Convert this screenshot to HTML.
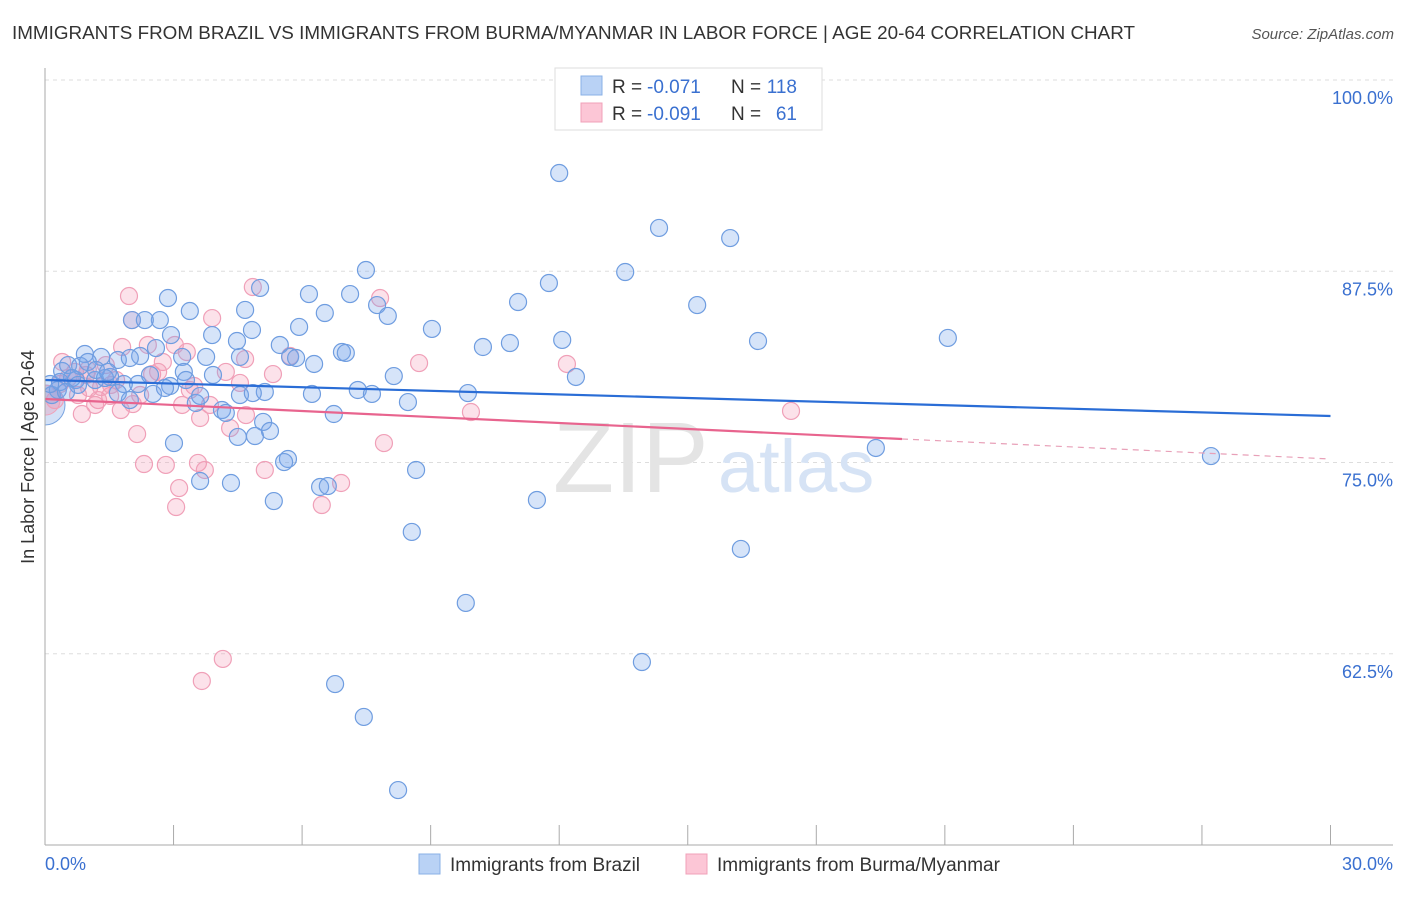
<!DOCTYPE html>
<html><head><meta charset="utf-8"><style>
body{margin:0;background:#fff;font-family:"Liberation Sans",sans-serif;}
svg text{font-family:"Liberation Sans",sans-serif;}
</style></head><body>
<svg id="chart" width="1406" height="892" viewBox="0 0 1406 892">
<defs><clipPath id="plotclip"><rect x="45" y="60" width="1360" height="785"/></clipPath></defs>
<text x="12" y="39" font-size="18" fill="#333" textLength="1123" lengthAdjust="spacingAndGlyphs">IMMIGRANTS FROM BRAZIL VS IMMIGRANTS FROM BURMA/MYANMAR IN LABOR FORCE | AGE 20-64 CORRELATION CHART</text>
<text x="1394" y="39" font-size="15" font-style="italic" fill="#555" text-anchor="end">Source: ZipAtlas.com</text>
<g id="grid"></g>
<text x="553" y="492" font-size="100" font-family="Liberation Serif" fill="#e4e4e4">ZIP</text>
<text x="718" y="492" font-size="74" fill="#d6e3f5">atlas</text>
<g id="pts" clip-path="url(#plotclip)"></g>
<g id="lines"></g>
<g id="axes"></g>
<text transform="translate(34,457) rotate(-90)" font-size="18" fill="#333" text-anchor="middle">In Labor Force | Age 20-64</text>
<g>
<rect x="555" y="68" width="267" height="62" fill="#fff" stroke="#ddd"/>
<rect x="581" y="76" width="21" height="19" fill="#b9d2f5" stroke="#89b0e6"/>
<rect x="581" y="103" width="21" height="19" fill="#fcc6d6" stroke="#f0a0b8"/>
<text x="612" y="93" font-size="19" fill="#333">R =</text>
<text x="647" y="93" font-size="19" fill="#3a70d0">-0.071</text>
<text x="731" y="93" font-size="19" fill="#333">N =</text>
<text x="797" y="93" font-size="19" fill="#3a70d0" text-anchor="end">118</text>
<text x="612" y="120" font-size="19" fill="#333">R =</text>
<text x="647" y="120" font-size="19" fill="#3a70d0">-0.091</text>
<text x="731" y="120" font-size="19" fill="#333">N =</text>
<text x="797" y="120" font-size="19" fill="#3a70d0" text-anchor="end">61</text>
</g>
<g>
<rect x="419" y="854" width="21" height="20" fill="#b9d2f5" stroke="#89b0e6"/>
<text x="450" y="871" font-size="19" fill="#333">Immigrants from Brazil</text>
<rect x="686" y="854" width="21" height="20" fill="#fcc6d6" stroke="#f0a0b8"/>
<text x="717" y="871" font-size="19" fill="#333">Immigrants from Burma/Myanmar</text>
</g>
</svg>
<script>
const yTicks=[100,87.5,75,62.5];
const yTickLabels=["100.0%","87.5%","75.0%","62.5%"];
const xTicks=[0,3,6,9,12,15,18,21,24,27,30];
const brazilX=[12.00,14.33,15.99,13.54,7.49,11.76,11.04,15.22,6.16,7.12,2.87,4.67,7.75,8.00,3.38,6.53,5.02,9.03,12.07,16.64,21.07,10.22,10.85,2.03,2.68,2.33,2.94,4.48,3.90,4.83,5.93,5.48,2.59,2.22,3.20,3.76,4.55,5.72,5.86,6.28,6.93,7.02,0.93,1.31,1.70,1.98,12.39,8.14,9.87,7.30,7.63,8.47,6.23,3.24,3.29,3.92,2.92,2.52,3.52,4.13,4.22,4.55,5.13,4.85,6.74,3.62,5.09,5.25,4.90,4.50,3.01,5.67,5.58,8.66,3.62,4.34,5.34,6.42,6.60,11.48,8.56,16.24,9.82,13.93,6.77,7.44,8.24,19.39,27.21,1.84,1.98,1.52,1.17,0.72,0.40,0.30,0.16,0.54,0.82,1.00,1.19,1.40,0.63,0.35,0.12,0.77,0.49,1.70,2.17,2.45,2.80,1.47];
const brazilY=[93.92,90.33,89.67,87.45,87.58,86.73,85.49,85.29,86.01,86.01,85.75,84.97,85.29,84.58,84.90,84.77,86.41,83.73,83.01,82.94,83.14,82.55,82.81,84.31,84.31,84.31,83.33,82.94,83.33,83.66,83.86,82.68,82.48,81.96,81.90,81.90,81.90,81.90,81.83,81.44,82.22,82.16,82.09,81.90,81.70,81.83,80.59,80.65,79.54,79.74,79.48,78.95,79.48,80.92,80.39,80.72,80.00,79.48,78.89,78.43,78.24,79.41,79.61,79.54,78.17,79.35,77.65,77.06,76.73,76.67,76.27,75.23,75.03,74.51,73.79,73.66,72.48,73.40,73.46,72.55,70.46,69.35,65.82,61.96,60.52,58.37,53.59,75.95,75.42,80.13,79.08,80.59,80.39,80.39,80.98,79.74,79.41,81.37,81.31,81.57,81.05,80.52,80.52,80.26,80.13,80.07,79.61,79.54,80.13,80.72,79.87,80.92];
const burmaX=[1.96,4.85,7.82,2.03,3.90,1.80,2.40,3.03,3.31,2.75,4.67,5.72,8.73,12.18,0.40,0.70,0.96,1.42,1.66,2.50,2.64,4.55,5.32,3.48,4.22,1.52,1.77,0.86,1.24,2.05,3.20,3.38,3.85,4.69,4.32,3.62,9.94,17.41,2.15,7.91,2.31,2.82,3.57,3.73,5.13,3.13,3.06,6.46,6.91,4.15,3.66,0.23,0.54,1.03,1.31,0.77,1.17,0.35,1.54,2.22,1.00];
const burmaY=[85.88,86.47,85.75,84.31,84.44,82.55,82.68,82.68,82.22,81.57,81.76,81.96,81.50,81.44,81.57,80.92,80.72,81.37,80.39,80.78,80.92,80.20,80.78,80.00,80.92,79.35,78.43,78.17,79.08,78.82,78.76,79.74,78.76,78.10,77.25,77.91,78.30,78.37,76.86,76.27,74.90,74.84,74.97,74.51,74.51,73.33,72.09,72.22,73.66,62.16,60.72,79.08,80.52,79.87,79.93,79.41,78.76,80.13,80.07,79.41,81.05];
const bigX=[0.0,0.0];
const bigY=[78.76,79.08];
const trendBrazil=[80.39,78.04];
const trendBurma=[79.15,75.23];
const burmaSolidEnd=20;
const NS="http://www.w3.org/2000/svg";
const X=v=>45+v*42.85;
const Y=v=>80+(100-v)*15.3;
function mk(t,a,p){const e=document.createElementNS(NS,t);for(const k in a)e.setAttribute(k,a[k]);p.appendChild(e);return e;}
const grid=document.getElementById('grid');
yTicks.forEach((t,i)=>{
 const l=mk('line',{x1:45,x2:1393,y1:Y(t),y2:Y(t),stroke:'#ddd','stroke-dasharray':'4,4'},grid);
 
 
 const tx=mk('text',{x:1393,y:Y(t)+24,'font-size':18,fill:'#3a70d0','text-anchor':'end'},grid);
 tx.textContent=yTickLabels[i];
 
 
});
const axes=document.getElementById('axes');
const ya=mk('line',{x1:45,x2:45,y1:68,y2:845,stroke:'#aaa'},axes);


const xa=mk('line',{x1:45,x2:1393,y1:845,y2:845,stroke:'#aaa'},axes);


xTicks.forEach(t=>{
 const l=mk('line',{x1:X(t),x2:X(t),y1:825,y2:845,stroke:'#aaa'},axes);
 
 
});
const xl0=mk('text',{x:45,y:870,'font-size':18,fill:'#3a70d0'},axes);xl0.textContent='0.0%';


const xl1=mk('text',{x:1393,y:870,'font-size':18,fill:'#3a70d0','text-anchor':'end'},axes);xl1.textContent='30.0%';


const pts=document.getElementById('pts');
bigX.forEach((v,i)=>{
 const c=mk('circle',{cx:X(v),cy:Y(bigY[i]),r:i?15:20,fill:i?'rgba(240,140,170,0.3)':'rgba(110,155,230,0.3)',stroke:i?'#f0a0b8':'#7aa4e0'},pts);
 
 
});
burmaX.forEach((v,i)=>{
 const c=mk('circle',{cx:X(v),cy:Y(burmaY[i]),r:8.5,fill:'rgba(245,150,180,0.28)',stroke:'#f0a0b8','stroke-width':1.2},pts);
 
 
});
brazilX.forEach((v,i)=>{
 const c=mk('circle',{cx:X(v),cy:Y(brazilY[i]),r:8.5,fill:'rgba(120,165,235,0.3)',stroke:'#6f9de0','stroke-width':1.2},pts);
 
 
});
const lines=document.getElementById('lines');
const lb=mk('line',{x1:X(0),y1:Y(trendBrazil[0]),x2:X(30),y2:Y(trendBrazil[1]),stroke:'#2a6dd6','stroke-width':2.2},lines);


const pm=trendBurma[0]+(trendBurma[1]-trendBurma[0])*burmaSolidEnd/30;
const lp=mk('line',{x1:X(0),y1:Y(trendBurma[0]),x2:X(burmaSolidEnd),y2:Y(pm),stroke:'#e8648e','stroke-width':2.2},lines);


const lpd=mk('line',{x1:X(burmaSolidEnd),y1:Y(pm),x2:X(30),y2:Y(trendBurma[1]),stroke:'#e8a0b8','stroke-width':1.2,'stroke-dasharray':'6,5'},lines);


</script>
</body></html>
